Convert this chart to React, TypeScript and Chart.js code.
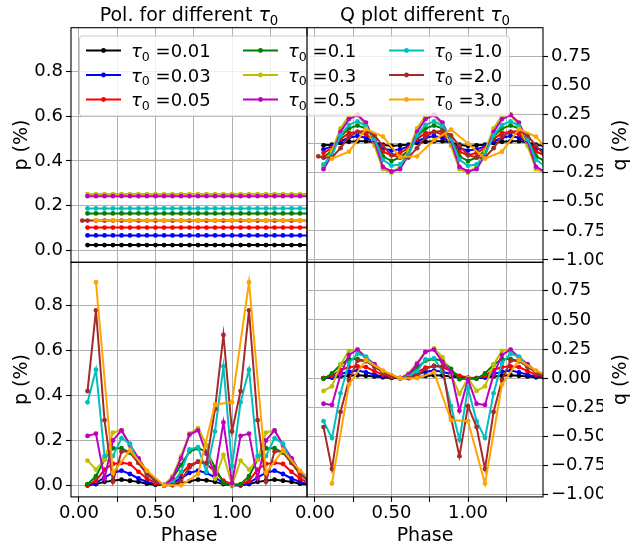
import React, { useEffect, useRef } from "react";
import { Chart, registerables } from "chart.js";
Chart.register(...registerables);

const W = 630;
const H = 543;
const FONT = '"DejaVu Sans", sans-serif';
const FS_LABEL = 19;
const FS_TICK = 18;
const FS_LEGEND = 18;

// ---------- categories / ticks ----------
const tauLabels = ["0.01", "0.03", "0.05", "0.1", "0.3", "0.5", "1.0", "2.0", "3.0"];
const seriesColors = ["#000000", "#0000ff", "#ff0000", "#008000", "#bfbf00", "#bf00bf", "#00bfbf", "#a52a2a", "#ffa500"];

const phaseAll = [0.056, 0.111, 0.167, 0.222, 0.278, 0.333, 0.389, 0.444, 0.5, 0.556, 0.611, 0.667, 0.722, 0.778, 0.833, 0.889, 0.944, 1.0, 1.056, 1.111, 1.167, 1.222, 1.278, 1.333, 1.389, 1.444, 1.5];
const phaseEven = [0.111, 0.222, 0.333, 0.444, 0.556, 0.667, 0.778, 0.889, 1.0, 1.111, 1.222, 1.333, 1.444, 1.556];
const phaseBrownTop = [0.022, 0.056, 0.111, 0.167, 0.222, 0.278, 0.333, 0.389, 0.444, 0.5, 0.556, 0.611, 0.667, 0.722, 0.778, 0.833, 0.889, 0.944, 1.0, 1.056, 1.111, 1.167, 1.222, 1.278, 1.333, 1.389, 1.444, 1.5];

const xTicks = [0, 0.25, 0.5, 0.75, 1.0, 1.25];
const xTickLabels = ["0.00", "", "0.50", "", "1.00", ""];
const pTicks = [0, 0.2, 0.4, 0.6, 0.8];
const pTickLabels = ["0.0", "0.2", "0.4", "0.6", "0.8"];
const qTicks = [-1, -0.75, -0.5, -0.25, 0, 0.25, 0.5, 0.75];
const qTickLabels = ["\u22121.00", "\u22120.75", "\u22120.50", "\u22120.25", "0.00", "0.25", "0.50", "0.75"];

// ---------- top-left: p (constant per tau) ----------
const pTopK = [0.025, 0.025, 0.025, 0.025, 0.025, 0.025, 0.025, 0.025, 0.025, 0.025, 0.025, 0.025, 0.025, 0.025, 0.025, 0.025, 0.025, 0.025, 0.025, 0.025, 0.025, 0.025, 0.025, 0.025, 0.025, 0.025, 0.025];
const pTopB = [0.068, 0.068, 0.068, 0.068, 0.068, 0.068, 0.068, 0.068, 0.068, 0.068, 0.068, 0.068, 0.068, 0.068, 0.068, 0.068, 0.068, 0.068, 0.068, 0.068, 0.068, 0.068, 0.068, 0.068, 0.068, 0.068, 0.068];
const pTopR = [0.103, 0.103, 0.103, 0.103, 0.103, 0.103, 0.103, 0.103, 0.103, 0.103, 0.103, 0.103, 0.103, 0.103, 0.103, 0.103, 0.103, 0.103, 0.103, 0.103, 0.103, 0.103, 0.103, 0.103, 0.103, 0.103, 0.103];
const pTopG = [0.166, 0.166, 0.166, 0.166, 0.166, 0.166, 0.166, 0.166, 0.166, 0.166, 0.166, 0.166, 0.166, 0.166, 0.166, 0.166, 0.166, 0.166, 0.166, 0.166, 0.166, 0.166, 0.166, 0.166, 0.166, 0.166, 0.166];
const pTopY = [0.252, 0.252, 0.252, 0.252, 0.252, 0.252, 0.252, 0.252, 0.252, 0.252, 0.252, 0.252, 0.252, 0.252, 0.252, 0.252, 0.252, 0.252, 0.252, 0.252, 0.252, 0.252, 0.252, 0.252, 0.252, 0.252, 0.252];
const pTopM = [0.243, 0.243, 0.243, 0.243, 0.243, 0.243, 0.243, 0.243, 0.243, 0.243, 0.243, 0.243, 0.243, 0.243, 0.243, 0.243, 0.243, 0.243, 0.243, 0.243, 0.243, 0.243, 0.243, 0.243, 0.243, 0.243, 0.243];
const pTopC = [0.188, 0.188, 0.188, 0.188, 0.188, 0.188, 0.188, 0.188, 0.188, 0.188, 0.188, 0.188, 0.188, 0.188, 0.188, 0.188, 0.188, 0.188, 0.188, 0.188, 0.188, 0.188, 0.188, 0.188, 0.188, 0.188, 0.188];
const pTopBr = [0.134, 0.134, 0.134, 0.134, 0.134, 0.134, 0.134, 0.134, 0.134, 0.134, 0.134, 0.134, 0.134, 0.134, 0.134, 0.134, 0.134, 0.134, 0.134, 0.134, 0.134, 0.134, 0.134, 0.134, 0.134, 0.134, 0.134, 0.134];
const pTopO = [0.136, 0.136, 0.136, 0.136, 0.136, 0.136, 0.136, 0.136, 0.136, 0.136, 0.136, 0.136, 0.136, 0.136];

// ---------- top-right: q ----------
const qTopK = [-0.015, -0.01, 0.005, 0.015, 0.02, 0.02, 0.01, -0.01, -0.02, -0.015, -0.01, 0.005, 0.015, 0.02, 0.02, 0.01, -0.01, -0.02, -0.015, -0.01, 0.005, 0.015, 0.02, 0.02, 0.01, -0.01, -0.02];
const qTopB = [-0.05, -0.025, 0.02, 0.05, 0.065, 0.05, 0.01, -0.04, -0.06, -0.05, -0.025, 0.02, 0.05, 0.065, 0.05, 0.01, -0.04, -0.06, -0.05, -0.025, 0.02, 0.05, 0.065, 0.05, 0.01, -0.04, -0.06];
const qTopR = [-0.08, -0.04, 0.04, 0.09, 0.1, 0.08, 0.02, -0.07, -0.1, -0.08, -0.04, 0.04, 0.09, 0.1, 0.08, 0.02, -0.07, -0.1, -0.08, -0.04, 0.04, 0.09, 0.1, 0.08, 0.02, -0.07, -0.1];
const qTopG = [-0.12, -0.06, 0.06, 0.13, 0.155, 0.13, 0.03, -0.11, -0.15, -0.12, -0.06, 0.06, 0.13, 0.155, 0.13, 0.03, -0.11, -0.15, -0.12, -0.06, 0.06, 0.13, 0.155, 0.13, 0.03, -0.11, -0.15];
const qTopY = [-0.2, -0.06, 0.13, 0.24, 0.25, 0.15, -0.02, -0.22, -0.25, -0.2, -0.06, 0.13, 0.24, 0.25, 0.15, -0.02, -0.22, -0.25, -0.2, -0.06, 0.13, 0.24, 0.25, 0.15, -0.02, -0.22, -0.25];
const qTopM = [-0.22, -0.1, 0.1, 0.21, 0.245, 0.18, 0.02, -0.2, -0.24, -0.22, -0.1, 0.1, 0.21, 0.245, 0.18, 0.02, -0.2, -0.24, -0.22, -0.1, 0.1, 0.21, 0.245, 0.18, 0.02, -0.2, -0.24];
const qTopC = [-0.18, -0.1, 0.07, 0.16, 0.19, 0.15, 0.04, -0.14, -0.19, -0.18, -0.1, 0.07, 0.16, 0.19, 0.15, 0.04, -0.14, -0.19, -0.18, -0.1, 0.07, 0.16, 0.19, 0.15, 0.04, -0.14, -0.19];
const qTopBr = [-0.11, -0.12, -0.12, -0.04, 0.06, 0.1, 0.11, 0.07, -0.02, -0.1, -0.12, -0.12, -0.04, 0.06, 0.1, 0.11, 0.07, -0.02, -0.1, -0.12, -0.12, -0.04, 0.06, 0.1, 0.11, 0.07, -0.02, -0.1];
const qTopO = [-0.13, -0.07, 0.125, 0.06, -0.115, -0.11, 0.03, 0.12, 0.0, -0.13, -0.07, 0.125, 0.06, -0.115];

// ---------- bottom-left: p ----------
const pBotK = [0.0, 0.005, 0.015, 0.02, 0.025, 0.02, 0.015, 0.007, 0.002, 0.0, 0.002, 0.008, 0.018, 0.025, 0.022, 0.015, 0.005, 0.0, 0.0, 0.005, 0.015, 0.02, 0.025, 0.02, 0.015, 0.007, 0.002];
const pBotB = [0.0, 0.01, 0.035, 0.055, 0.065, 0.05, 0.03, 0.015, 0.005, 0.0, 0.01, 0.03, 0.055, 0.065, 0.055, 0.035, 0.01, 0.0, 0.0, 0.01, 0.035, 0.055, 0.065, 0.05, 0.03, 0.015, 0.005];
const pBotR = [0.0, 0.02, 0.07, 0.095, 0.1, 0.095, 0.06, 0.03, 0.01, 0.0, 0.015, 0.05, 0.09, 0.105, 0.095, 0.06, 0.02, 0.005, 0.0, 0.02, 0.07, 0.095, 0.1, 0.095, 0.06, 0.03, 0.01];
const pBotG = [0.005, 0.04, 0.115, 0.165, 0.165, 0.145, 0.1, 0.055, 0.015, 0.0, 0.03, 0.09, 0.15, 0.165, 0.15, 0.08, 0.01, 0.0, 0.005, 0.04, 0.115, 0.165, 0.165, 0.145, 0.1, 0.055, 0.015];
const pBotY = [0.11, 0.07, 0.115, 0.235, 0.245, 0.175, 0.12, 0.06, 0.02, 0.0, 0.04, 0.13, 0.23, 0.255, 0.18, 0.03, 0.135, 0.0, 0.11, 0.07, 0.115, 0.235, 0.245, 0.175, 0.12, 0.06, 0.02];
const pBotM = [0.22, 0.23, 0.03, 0.2, 0.245, 0.18, 0.12, 0.06, 0.02, 0.0, 0.03, 0.12, 0.225, 0.245, 0.14, 0.05, 0.28, 0.01, 0.22, 0.23, 0.03, 0.2, 0.245, 0.18, 0.12, 0.06, 0.02];
const pBotC = [0.37, 0.515, 0.13, 0.13, 0.21, 0.185, 0.1, 0.05, 0.02, 0.0, 0.01, 0.06, 0.16, 0.17, 0.06, 0.24, 0.53, 0.085, 0.37, 0.515, 0.13, 0.13, 0.21, 0.185, 0.1, 0.05, 0.02];
const pBotBr = [0.42, 0.78, 0.29, 0.015, 0.15, 0.15, 0.1, 0.05, 0.02, 0.0, 0.0, 0.02, 0.08, 0.105, 0.1, 0.34, 0.67, 0.24, 0.42, 0.78, 0.29, 0.015, 0.15, 0.15, 0.1, 0.05, 0.02];
const pBotO = [0.905, 0.055, 0.155, 0.065, 0.0, 0.0, 0.05, 0.36, 0.37, 0.905, 0.055, 0.155, 0.065, 0.0];

// ---------- bottom-right: q ----------
const qBotK = [0.0, 0.005, 0.015, 0.02, 0.025, 0.02, 0.015, 0.007, 0.002, 0.0, 0.002, 0.008, 0.018, 0.025, 0.022, 0.015, 0.005, 0.0, 0.0, 0.005, 0.015, 0.02, 0.025, 0.02, 0.015, 0.007, 0.002];
const qBotB = [0.0, 0.01, 0.035, 0.055, 0.065, 0.05, 0.03, 0.015, 0.005, 0.0, 0.01, 0.03, 0.055, 0.065, 0.055, 0.035, 0.01, 0.0, 0.0, 0.01, 0.035, 0.055, 0.065, 0.05, 0.03, 0.015, 0.005];
const qBotR = [0.0, 0.02, 0.07, 0.095, 0.1, 0.095, 0.06, 0.03, 0.01, 0.0, 0.015, 0.05, 0.09, 0.105, 0.095, 0.06, 0.02, 0.005, 0.0, 0.02, 0.07, 0.095, 0.1, 0.095, 0.06, 0.03, 0.01];
const qBotG = [-0.005, 0.04, 0.115, 0.165, 0.165, 0.145, 0.1, 0.055, 0.015, 0.0, 0.03, 0.09, 0.15, 0.165, 0.15, 0.08, -0.01, 0.0, -0.005, 0.04, 0.115, 0.165, 0.165, 0.145, 0.1, 0.055, 0.015];
const qBotY = [-0.11, -0.07, 0.115, 0.235, 0.245, 0.175, 0.12, 0.06, 0.02, 0.0, 0.04, 0.13, 0.23, 0.255, 0.18, 0.03, -0.135, 0.0, -0.11, -0.07, 0.115, 0.235, 0.245, 0.175, 0.12, 0.06, 0.02];
const qBotM = [-0.22, -0.23, 0.03, 0.2, 0.245, 0.18, 0.12, 0.06, 0.02, 0.0, 0.03, 0.12, 0.225, 0.245, 0.14, 0.05, -0.28, -0.01, -0.22, -0.23, 0.03, 0.2, 0.245, 0.18, 0.12, 0.06, 0.02];
const qBotC = [-0.37, -0.515, -0.13, 0.13, 0.21, 0.185, 0.1, 0.05, 0.02, 0.0, 0.01, 0.06, 0.16, 0.17, 0.06, -0.24, -0.53, -0.085, -0.37, -0.515, -0.13, 0.13, 0.21, 0.185, 0.1, 0.05, 0.02];
const qBotBr = [-0.42, -0.78, -0.29, -0.015, 0.15, 0.15, 0.1, 0.05, 0.02, 0.0, 0.0, 0.02, 0.08, 0.105, 0.1, -0.34, -0.67, -0.24, -0.42, -0.78, -0.29, -0.015, 0.15, 0.15, 0.1, 0.05, 0.02];
const qBotO = [-0.905, -0.055, 0.155, 0.065, 0.0, 0.0, 0.05, -0.36, -0.37, -0.905, -0.055, 0.155, 0.065, 0.0];

// ---------- layout ----------
const XL = 71, XM = 307, XR = 543;
const YT = 27.7, YM = 262.3, YB = 496.9;
const AXW = 60;
const AXH = 40;
const X_MIN = -0.052, X_MAX = 1.49;

function makeDatasets(ys: number[][], xsList: number[][]) {
  return ys.map((arr, i) => {
    const xs = xsList[i];
    const c = seriesColors[i];
    return {
      label: tauLabels[i],
      data: xs.map((x, j) => ({ x, y: arr[j] })),
      borderColor: c,
      backgroundColor: c,
      pointBackgroundColor: c,
      pointBorderColor: c,
      borderWidth: 2,
      pointRadius: 2.4,
      pointBorderWidth: 0,
      pointHoverRadius: 2.4,
      tension: 0,
      fill: false,
      order: 8 - i,
    };
  });
}

function drawTau(ctx: CanvasRenderingContext2D, x: number, y: number, prefix: string, suffix: string, align: string, s: number) {
  const reg = `${s}px ${FONT}`;
  const ita = `italic ${s}px ${FONT}`;
  const sub = `${s * 0.7}px ${FONT}`;
  ctx.font = reg;
  const w1 = ctx.measureText(prefix).width;
  const w4 = ctx.measureText(suffix).width;
  ctx.font = ita;
  const w2 = ctx.measureText("\u03c4").width;
  ctx.font = sub;
  const w3 = ctx.measureText("0").width;
  const total = w1 + w2 + w3 + w4;
  let cx = align === "center" ? x - total / 2 : x;
  ctx.fillStyle = "#000";
  ctx.textAlign = "left";
  ctx.textBaseline = "alphabetic";
  ctx.font = reg;
  ctx.fillText(prefix, cx, y);
  cx += w1;
  ctx.font = ita;
  ctx.fillText("\u03c4", cx, y);
  cx += w2;
  ctx.font = sub;
  ctx.fillText("0", cx, y + s * 0.2);
  cx += w3;
  ctx.font = reg;
  ctx.fillText(suffix, cx, y);
}

function rotText(ctx: CanvasRenderingContext2D, text: string, x: number, y: number) {
  ctx.save();
  ctx.translate(x, y);
  ctx.rotate(-Math.PI / 2);
  ctx.font = `${FS_LABEL}px ${FONT}`;
  ctx.fillStyle = "#000";
  ctx.textAlign = "center";
  ctx.textBaseline = "middle";
  ctx.fillText(text, 0, 0);
  ctx.restore();
}

function plainText(ctx: CanvasRenderingContext2D, text: string, x: number, y: number) {
  ctx.font = `${FS_LABEL}px ${FONT}`;
  ctx.fillStyle = "#000";
  ctx.textAlign = "center";
  ctx.textBaseline = "alphabetic";
  ctx.fillText(text, x, y);
}

function drawLegend(ctx: CanvasRenderingContext2D) {
  const bx = 79.5, by = 36, bw = 430, bh = 80;
  ctx.save();
  ctx.beginPath();
  ctx.roundRect(bx, by, bw, bh, 3);
  ctx.fillStyle = "rgba(255,255,255,0.8)";
  ctx.fill();
  ctx.strokeStyle = "#cccccc";
  ctx.lineWidth = 1;
  ctx.stroke();
  const colX = [86, 243, 389];
  const rowY = [50.5, 75, 99.5];
  for (let i = 0; i < 9; i++) {
    const col = Math.floor(i / 3);
    const row = i % 3;
    const x0 = colX[col];
    const y0 = rowY[row];
    const c = seriesColors[i];
    ctx.strokeStyle = c;
    ctx.lineWidth = 2;
    ctx.beginPath();
    ctx.moveTo(x0, y0);
    ctx.lineTo(x0 + 35, y0);
    ctx.stroke();
    ctx.fillStyle = c;
    ctx.beginPath();
    ctx.arc(x0 + 17.5, y0, 2.4, 0, Math.PI * 2);
    ctx.fill();
    drawTau(ctx, x0 + 45, y0 + 6.5, "", " =" + tauLabels[i], "left", FS_LEGEND);
  }
  ctx.restore();
}

type Panel = {
  left: number; right: number; top: number; bottom: number;
  yPos: "left" | "right"; kind: "p" | "q"; showX: boolean;
  series: number[][]; xs: number[][]; texts: (ctx: CanvasRenderingContext2D) => void;
};

function buildChart(canvas: HTMLCanvasElement, p: Panel) {
  const isP = p.kind === "p";
  const yTicks = isP ? pTicks : qTicks;
  const yLabels = isP ? pTickLabels : qTickLabels;
  const padding = {
    left: p.yPos === "left" ? p.left - AXW : p.left,
    right: p.yPos === "right" ? W - p.right - AXW : W - p.right,
    top: p.top,
    bottom: H - p.bottom - AXH,
  };
  const font = { family: FONT, size: FS_TICK };
  const grid = { color: "#b0b0b0", lineWidth: 1, drawTicks: true, tickLength: 5, tickColor: "#000", tickWidth: 1.1 };
  const framePlugin = {
    id: "frame",
    afterDraw(chart: any) {
      const ctx = chart.ctx as CanvasRenderingContext2D;
      const a = chart.chartArea;
      ctx.save();
      p.texts(ctx);
      ctx.strokeStyle = "#000";
      ctx.lineWidth = 1.1;
      ctx.strokeRect(a.left, a.top, a.right - a.left, a.bottom - a.top);
      ctx.restore();
    },
  };
  return new Chart(canvas, {
    type: "line",
    data: { datasets: makeDatasets(p.series, p.xs) as any },
    options: {
      animation: false,
      responsive: false,
      maintainAspectRatio: false,
      devicePixelRatio: 1,
      events: [],
      layout: { padding },
      plugins: { legend: { display: false }, tooltip: { enabled: false }, title: { display: false } },
      scales: {
        x: {
          type: "linear",
          position: "bottom",
          min: X_MIN,
          max: X_MAX,
          afterBuildTicks: (s: any) => { s.ticks = xTicks.map((v) => ({ value: v })); },
          afterFit: (s: any) => { s.height = AXH; },
          grid,
          border: { display: false },
          ticks: {
            display: p.showX,
            autoSkip: false,
            maxRotation: 0,
            padding: 1,
            color: "#000",
            font,
            callback: (_v: any, i: number) => xTickLabels[i],
          },
        },
        y: {
          type: "linear",
          position: p.yPos,
          min: isP ? -0.052 : -1.02,
          max: isP ? 0.994 : 0.995,
          afterBuildTicks: (s: any) => { s.ticks = yTicks.map((v) => ({ value: v })); },
          afterFit: (s: any) => { s.width = AXW; },
          grid,
          border: { display: false },
          ticks: {
            autoSkip: false,
            padding: 3,
            color: "#000",
            font,
            callback: (_v: any, i: number) => yLabels[i],
          },
        },
      },
    } as any,
    plugins: [framePlugin],
  });
}

const xsTop = [phaseAll, phaseAll, phaseAll, phaseAll, phaseAll, phaseAll, phaseAll, phaseBrownTop, phaseEven];
const xsBot = [phaseAll, phaseAll, phaseAll, phaseAll, phaseAll, phaseAll, phaseAll, phaseAll, phaseEven];

export default function App() {
  const r1 = useRef<HTMLCanvasElement>(null);
  const r2 = useRef<HTMLCanvasElement>(null);
  const r3 = useRef<HTMLCanvasElement>(null);
  const r4 = useRef<HTMLCanvasElement>(null);

  useEffect(() => {
    const charts = [
      buildChart(r1.current!, {
        left: XL, right: XM, top: YT, bottom: YM, yPos: "left", kind: "p", showX: false,
        series: [pTopK, pTopB, pTopR, pTopG, pTopY, pTopM, pTopC, pTopBr, pTopO], xs: xsTop,
        texts: (ctx) => {
          drawTau(ctx, (XL + XM) / 2, 21, "Pol. for different ", "", "center", FS_LABEL);
          rotText(ctx, "p (%)", 22, (YT + YM) / 2);
        },
      }),
      buildChart(r2.current!, {
        left: XM, right: XR, top: YT, bottom: YM, yPos: "right", kind: "q", showX: false,
        series: [qTopK, qTopB, qTopR, qTopG, qTopY, qTopM, qTopC, qTopBr, qTopO], xs: xsTop,
        texts: (ctx) => {
          drawTau(ctx, (XM + XR) / 2, 21, "Q plot different ", "", "center", FS_LABEL);
          rotText(ctx, "q (%)", 621, (YT + YM) / 2);
          drawLegend(ctx);
        },
      }),
      buildChart(r3.current!, {
        left: XL, right: XM, top: YM, bottom: YB, yPos: "left", kind: "p", showX: true,
        series: [pBotK, pBotB, pBotR, pBotG, pBotY, pBotM, pBotC, pBotBr, pBotO], xs: xsBot,
        texts: (ctx) => {
          rotText(ctx, "p (%)", 22, (YM + YB) / 2);
          plainText(ctx, "Phase", (XL + XM) / 2, 541);
        },
      }),
      buildChart(r4.current!, {
        left: XM, right: XR, top: YM, bottom: YB, yPos: "right", kind: "q", showX: true,
        series: [qBotK, qBotB, qBotR, qBotG, qBotY, qBotM, qBotC, qBotBr, qBotO], xs: xsBot,
        texts: (ctx) => {
          rotText(ctx, "q (%)", 621, (YM + YB) / 2);
          plainText(ctx, "Phase", (XM + XR) / 2, 541);
        },
      }),
    ];
    return () => charts.forEach((c) => c.destroy());
  }, []);

  const cs: React.CSSProperties = { position: "absolute", left: 0, top: 0, width: W, height: H };
  return (
    <div style={{ position: "fixed", left: 0, top: 0, width: W, height: H, background: "#fff", overflow: "hidden" }}>
      <canvas ref={r1} width={W} height={H} style={cs} />
      <canvas ref={r2} width={W} height={H} style={cs} />
      <canvas ref={r3} width={W} height={H} style={cs} />
      <canvas ref={r4} width={W} height={H} style={cs} />
    </div>
  );
}
